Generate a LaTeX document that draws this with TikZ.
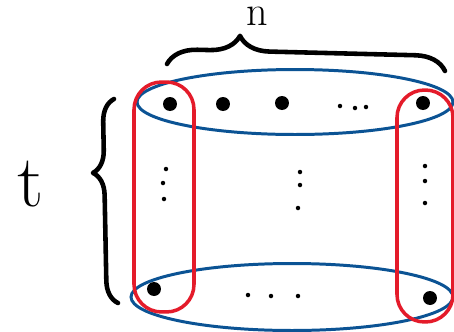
\documentclass[tikz,border=0pt]{standalone}
\usepackage{xcolor}
\usepackage{tikz}
\usetikzlibrary{shapes.geometric,decorations.pathreplacing}

\definecolor{rowblue}{HTML}{0B5394}
\definecolor{colred}{HTML}{E41B2A}

\begin{document}
\begin{tikzpicture}[
    x=0.02cm, y=-0.02cm,
    bigdot/.style={circle, fill, inner sep=0pt, minimum size=0.28cm},
    smalldot/.style={circle, fill, inner sep=0pt, minimum size=0.09cm},
    rowset/.style={ellipse, draw=rowblue, line width=1.7pt, inner sep=0pt},
    colset/.style={rectangle, draw=colred, line width=2pt, rounded corners=0.55cm, inner sep=0pt},
    hbrace/.style={decorate, decoration={brace}, line width=2.6pt, line cap=round, line join=round}
]
\useasboundingbox (0,0) rectangle (454,332);

% Row sets
\node[rowset, minimum width=6.32cm, minimum height=1.3cm] (toprow) at (295,102) {};
\node[rowset, minimum width=6.44cm, minimum height=1.34cm] (botrow) at (292,297) {};

% Column sets
\node[colset, minimum width=1.2cm, minimum height=4.6cm] (leftcol) at (164,197) {};
\node[colset, minimum width=1.12cm, minimum height=4.64cm] (rightcol) at (425,206) {};

% Top row
\node[bigdot] (top1) at (170,104) {};
\node[bigdot] (top2) at (223,104) {};
\node[bigdot] (top3) at (282,103) {};
\node[smalldot] (topd1) at (340,106) {};
\node[smalldot] (topd2) at (355,108) {};
\node[smalldot] (topd3) at (366,107) {};
\node[bigdot] (topn) at (423,103) {};

% Vertical dots
\node[smalldot] (leftd1) at (166,169) {};
\node[smalldot] (leftd2) at (163,183) {};
\node[smalldot] (leftd3) at (164,199) {};
\node[smalldot] (midd1) at (300,172) {};
\node[smalldot] (midd2) at (300,185) {};
\node[smalldot] (midd3) at (298,208) {};
\node[smalldot] (rightd1) at (425,166) {};
\node[smalldot] (rightd2) at (425,181) {};
\node[smalldot] (rightd3) at (425,203) {};

% Bottom row
\node[bigdot] (bot1) at (154,289) {};
\node[smalldot] (botd1) at (248,295) {};
\node[smalldot] (botd2) at (271,296) {};
\node[smalldot] (botd3) at (298,296) {};
\node[bigdot] (botn) at (430,298) {};

% Braces
\coordinate (nstart) at (167,64);
\coordinate (nend) at (445,71);
\draw[hbrace, decoration={amplitude=0.6cm, aspect=0.26}] (nstart) -- (nend);
\node[anchor=base, inner sep=0pt] (nlabel) at (257,25) {\fontsize{24}{24}\selectfont n};

\coordinate (ttop) at (114,99);
\coordinate (tbot) at (118,303);
\draw[hbrace, decoration={amplitude=0.45cm, aspect=0.64}] (tbot) -- (ttop);
\node (tlabel) at (31,184) {\fontsize{42}{42}\selectfont t};
\end{tikzpicture}
\end{document}
